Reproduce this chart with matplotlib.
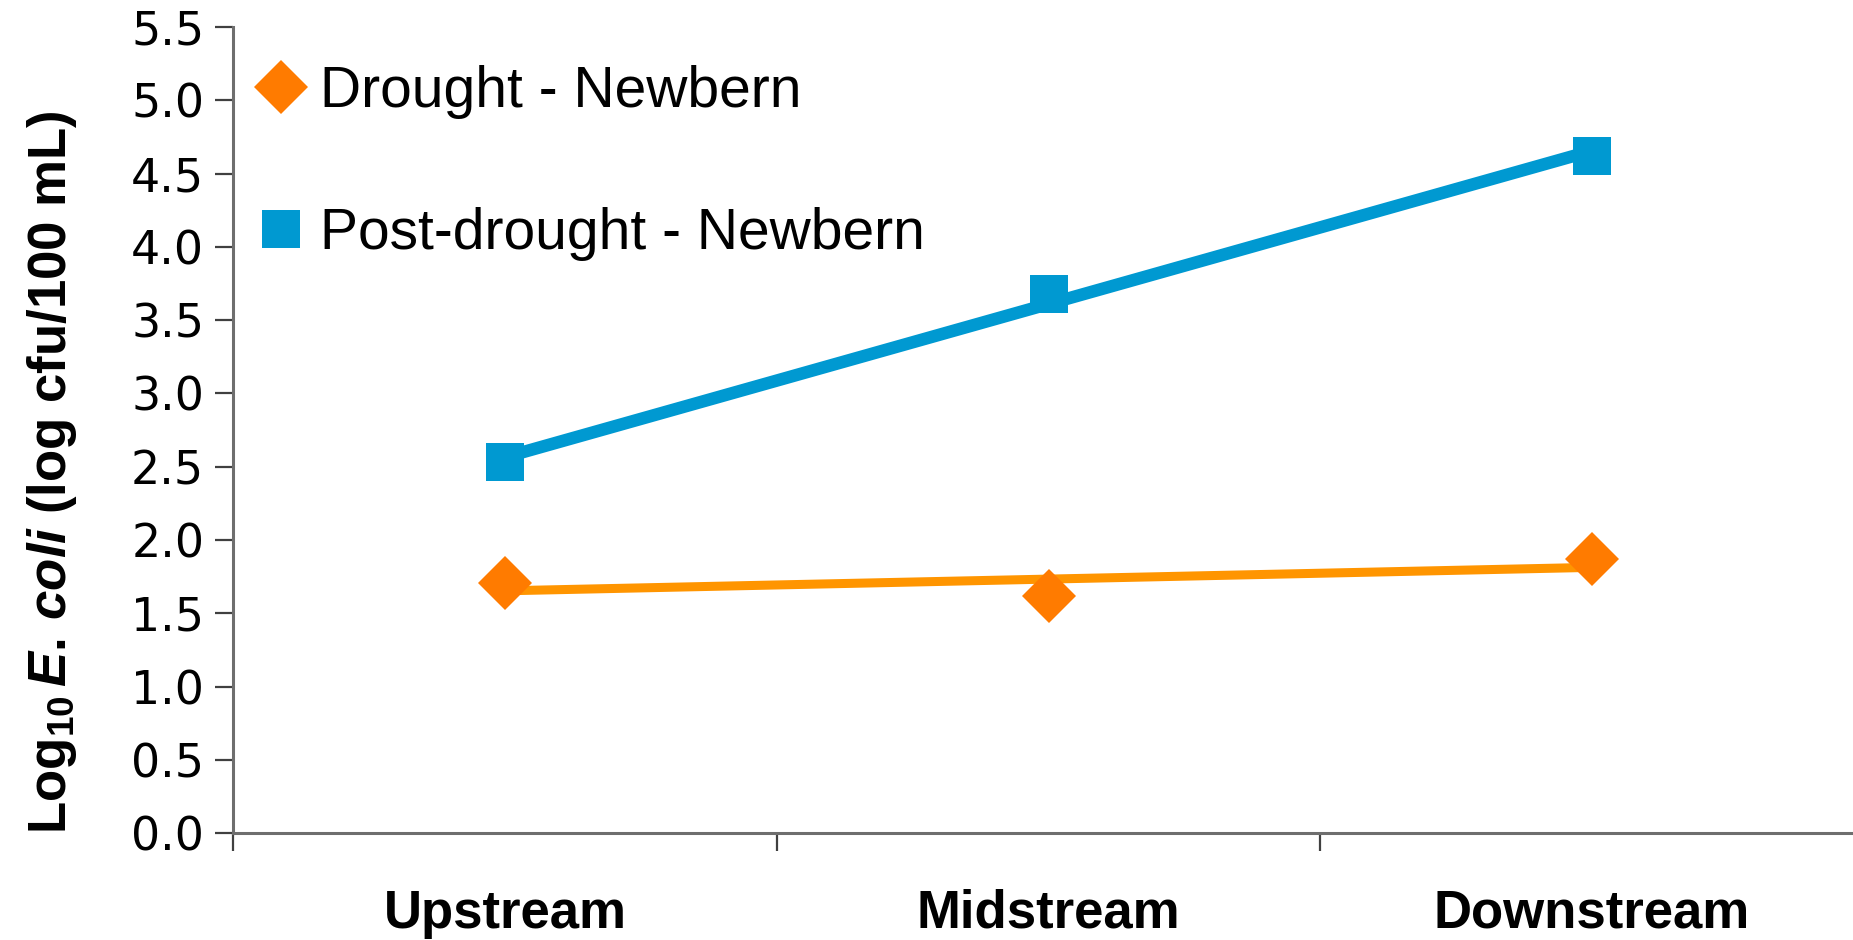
"""
E. coli levels along the creek, drought vs post-drought sampling.
"""

import numpy as np
import matplotlib
matplotlib.use("Agg")
import matplotlib.pyplot as plt
from matplotlib.ticker import FixedLocator, MultipleLocator

"""Sites and log10 counts."""
SITES = ["Upstream", "Midstream", "Downstream"]
DROUGHT = [1.71, 1.62, 1.87]
POST_DROUGHT = [2.53, 3.68, 4.62]
LABELS = ["Drought - Newbern", "Post-drought - Newbern"]

ORANGE = "#FF7B00"
ORANGE_LINE = "#FF9500"
BLUE = "#0099D1"

plt.rcParams["mathtext.fontset"] = "custom"
plt.rcParams["mathtext.rm"] = "Liberation Sans:bold"
plt.rcParams["mathtext.it"] = "Liberation Sans:italic:bold"
plt.rcParams["mathtext.bf"] = "Liberation Sans:bold"


def trend(x, y):
    """Least squares line through the points."""
    k, b = np.polyfit(x, y, 1)
    return k * np.asarray(x) + b


def main():
    W, H = 1853, 940
    fig = plt.figure(figsize=(W / 100, H / 100), dpi=100)
    ax = fig.add_axes([233.3 / W, (H - 833.2) / H, 1630.5 / W, 806.3 / H])

    x = np.arange(len(SITES))

    """Trend lines first so the markers sit on top."""
    ax.plot(x, trend(x, DROUGHT), color=ORANGE_LINE, lw=6.5,
            solid_capstyle="butt", zorder=2)
    ax.plot(x, trend(x, POST_DROUGHT), color=BLUE, lw=9,
            solid_capstyle="butt", zorder=2)

    ax.plot(x, DROUGHT, ls="none", marker="D", ms=27, mew=0,
            color=ORANGE, label=LABELS[0], zorder=3)
    ax.plot(x, POST_DROUGHT, ls="none", marker="s", ms=27, mew=0,
            color=BLUE, label=LABELS[1], zorder=3)

    ax.set_xlim(-0.5, 2.5)
    ax.set_ylim(0, 5.5)

    """Axes styling."""
    for side in ["top", "right"]:
        ax.spines[side].set_visible(False)
    for side in ["left", "bottom"]:
        ax.spines[side].set_color("#6e6e6e")
        ax.spines[side].set_linewidth(2.2)

    ax.yaxis.set_major_locator(MultipleLocator(0.5))
    ax.yaxis.set_major_formatter(plt.FuncFormatter(lambda v, p: f"{v:.1f}"))
    ax.tick_params(axis="y", direction="out", length=13, width=1.6,
                   color="#404040", pad=8, labelsize=33)

    ax.set_xticks(x)
    ax.set_xticklabels(SITES, fontfamily="Liberation Sans",
                       fontweight="bold", fontsize=38)
    ax.xaxis.set_minor_locator(FixedLocator([-0.5, 0.5, 1.5, 2.5]))
    ax.tick_params(axis="x", which="major", length=0, pad=40)
    ax.tick_params(axis="x", which="minor", direction="out", length=13,
                   width=1.6, color="#404040")

    ax.set_ylabel(r"Log$_{\mathrm{10}}\,\mathit{E.}\,\mathit{coli}$ (log cfu/100 mL)",
                  fontfamily="Liberation Sans", fontweight="bold",
                  fontsize=38)
    ax.yaxis.label.set_va("center")
    ax.yaxis.set_label_coords((52 - 233.3) / 1630.5, (833.2 - 472) / 806.3)

    ax.legend(loc="upper left", bbox_to_anchor=(260 / W, 1 - 65 / H),
              bbox_transform=fig.transFigure, frameon=False, borderpad=0,
              borderaxespad=0, handlelength=0.75, handletextpad=0.3,
              labelspacing=1.55,
              prop={"family": "Liberation Sans", "size": 41})

    fig.savefig("out.png", dpi=100)


if __name__ == "__main__":
    main()
